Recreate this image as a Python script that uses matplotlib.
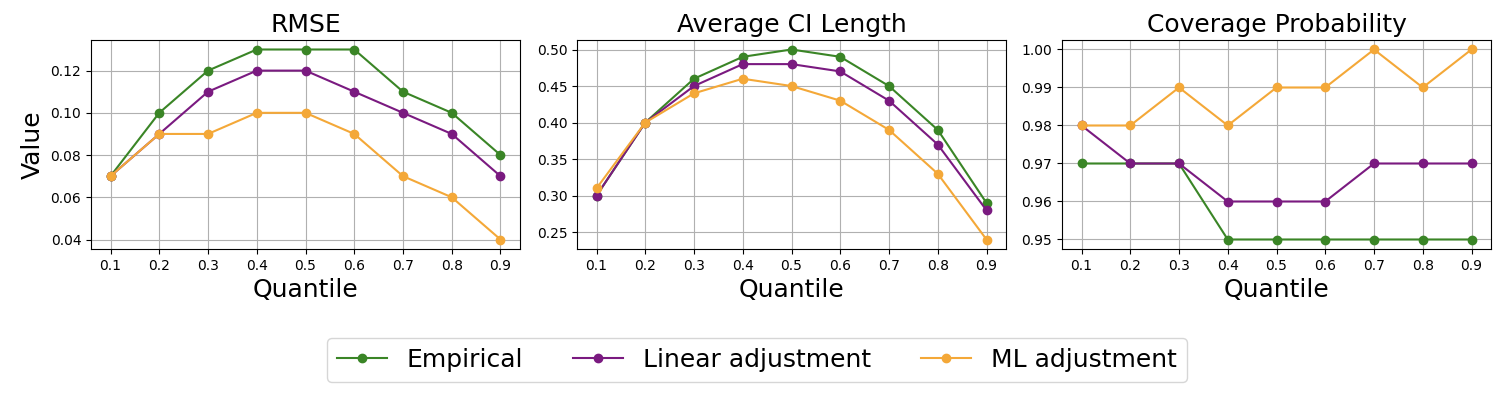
import matplotlib
matplotlib.use("Agg")
import matplotlib.pyplot as plt

quantiles = [0.1, 0.2, 0.3, 0.4, 0.5, 0.6, 0.7, 0.8, 0.9]
series_names = ["Empirical", "Linear adjustment", "ML adjustment"]

rmse_empirical = [0.07, 0.10, 0.12, 0.13, 0.13, 0.13, 0.11, 0.10, 0.08]
rmse_linear = [0.07, 0.09, 0.11, 0.12, 0.12, 0.11, 0.10, 0.09, 0.07]
rmse_ml = [0.07, 0.09, 0.09, 0.10, 0.10, 0.09, 0.07, 0.06, 0.04]

ci_empirical = [0.30, 0.40, 0.46, 0.49, 0.50, 0.49, 0.45, 0.39, 0.29]
ci_linear = [0.30, 0.40, 0.45, 0.48, 0.48, 0.47, 0.43, 0.37, 0.28]
ci_ml = [0.31, 0.40, 0.44, 0.46, 0.45, 0.43, 0.39, 0.33, 0.24]

cov_empirical = [0.97, 0.97, 0.97, 0.95, 0.95, 0.95, 0.95, 0.95, 0.95]
cov_linear = [0.98, 0.97, 0.97, 0.96, 0.96, 0.96, 0.97, 0.97, 0.97]
cov_ml = [0.98, 0.98, 0.99, 0.98, 0.99, 0.99, 1.00, 0.99, 1.00]

titles = ["RMSE", "Average CI Length", "Coverage Probability"]
colors = ["#3a8526", "#7a1a80", "#f4a838"]

panels = [
    (rmse_empirical, rmse_linear, rmse_ml),
    (ci_empirical, ci_linear, ci_ml),
    (cov_empirical, cov_linear, cov_ml),
]

fig = plt.figure(figsize=(15.02, 3.98), dpi=100)
lefts = [91 / 1502, 577 / 1502, 1062 / 1502]
w = 429 / 1502
bottom = 1 - 249 / 398
h = (249 - 40) / 398

handles = []
for i, (data, title) in enumerate(zip(panels, titles)):
    ax = fig.add_axes([lefts[i], bottom, w, h])
    for vals, name, c in zip(data, series_names, colors):
        ln, = ax.plot(quantiles, vals, marker="o", color=c, label=name,
                      linewidth=1.5, markersize=6)
        if i == 0:
            handles.append(ln)
    ax.set_title(title, fontsize=18)
    ax.set_xlabel("Quantile", fontsize=18)
    ax.set_xticks(quantiles)
    ax.set_xticklabels([f"{q:.1f}" for q in quantiles])
    ax.tick_params(labelsize=10)
    ax.grid(True, color="#b0b0b0", linewidth=0.8)
    if i == 0:
        ax.set_ylabel("Value", fontsize=18)

fig.legend(handles=handles, labels=series_names, loc="center",
           bbox_to_anchor=(0.504, 0.095), ncol=3, fontsize=18,
           frameon=True, columnspacing=2.0)

fig.savefig("out.png", dpi=100)
